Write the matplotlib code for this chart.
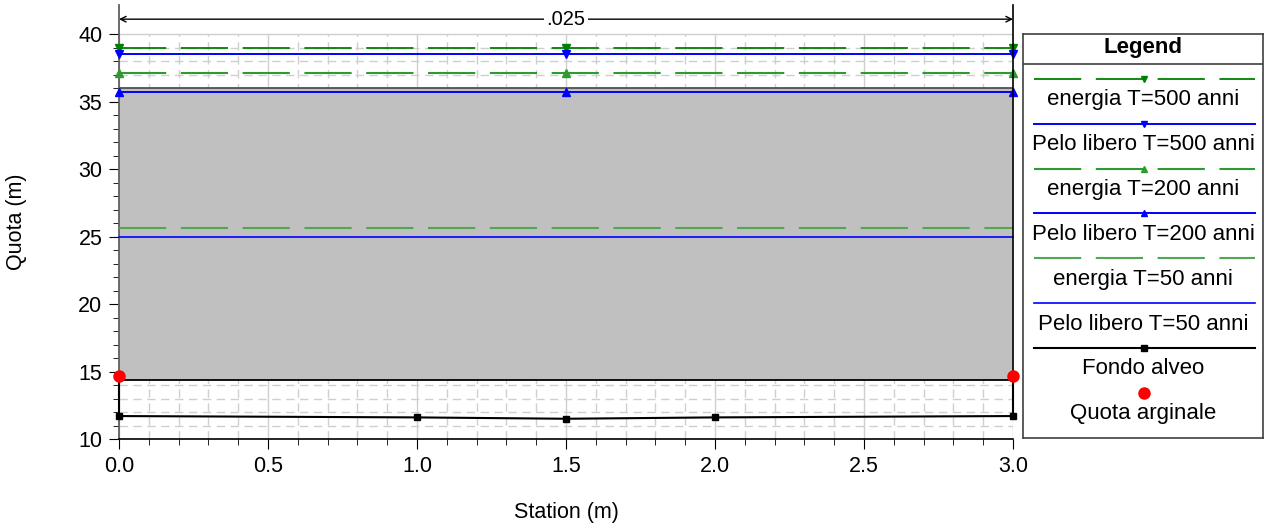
import matplotlib
matplotlib.use("Agg")
import matplotlib.pyplot as plt
from matplotlib.lines import Line2D

plt.rcParams['font.family'] = ['Liberation Sans', 'DejaVu Sans']
plt.rcParams['lines.scale_dashes'] = False

# sezione / dati
stazioni_fondo = [0.0, 0.0, 1.0, 1.5, 2.0, 3.0, 3.0]
quote_fondo = [14.7, 11.7, 11.6, 11.5, 11.6, 11.7, 14.7]
stazioni_argini = [0.0, 3.0]
quote_argini = [14.7, 14.7]

stazioni_livelli = [0.0, 1.5, 3.0]
energia_500 = [39.0, 39.0, 39.0]
pelo_500 = [38.5, 38.5, 38.5]
energia_200 = [37.1, 37.1, 37.1]
pelo_200 = [35.7, 35.7, 35.7]
energia_50 = [25.65, 25.65, 25.65]
pelo_50 = [24.95, 24.95, 24.95]

# ostruzione (area grigia)
ostruzione_x = [0.0, 3.0]
ostruzione_basso = [14.35, 14.35]
ostruzione_alto = [36.0, 36.0]

manning_n = ".025"

x_major = [0.0, 0.5, 1.0, 1.5, 2.0, 2.5, 3.0]
x_labels = ["0.0", "0.5", "1.0", "1.5", "2.0", "2.5", "3.0"]
x_minor = [i / 10 for i in range(31)]
y_major = [10, 15, 20, 25, 30, 35, 40]
y_minor = list(range(10, 41))

verde_scuro = '#008000'
verde_medio = '#2f9a2f'
verde_chiaro = '#4fa84f'
blu = '#0000ff'
dash_energia = (0, (34, 10.5))

serie = [
    ("energia T=500 anni", energia_500, dict(color=verde_scuro, ls=dash_energia, lw=1.3, marker='v')),
    ("Pelo libero T=500 anni", pelo_500, dict(color=blu, ls='-', lw=1.4, marker='v')),
    ("energia T=200 anni", energia_200, dict(color=verde_medio, ls=dash_energia, lw=1.5, marker='^')),
    ("Pelo libero T=200 anni", pelo_200, dict(color=blu, ls='-', lw=1.4, marker='^')),
    ("energia T=50 anni", energia_50, dict(color=verde_chiaro, ls=dash_energia, lw=1.5, marker=None)),
    ("Pelo libero T=50 anni", pelo_50, dict(color=blu, ls='-', lw=1.2, marker=None)),
]

fig = plt.figure(figsize=(12.7, 5.26), dpi=100)
ax = fig.add_axes([119 / 1270, 87 / 526, 894 / 1270, 434 / 526])

# griglia solo fino a quota 40
gx0, gx1 = x_major[0], x_major[-1]
gy0, gy1 = y_major[0], y_major[-1]
ax.vlines([v for v in x_minor if v not in x_major], gy0, gy1, color='#cfcfcf', lw=1.0,
          linestyles=[(0, (6, 4))], zorder=0)
ax.hlines([v for v in y_minor if v not in y_major], gx0, gx1, color='#cfcfcf', lw=1.0,
          linestyles=[(0, (6, 4))], zorder=0)
ax.vlines(x_major, gy0, gy1, color='#cfcfcf', lw=1.0, zorder=0)
ax.hlines(y_major, gx0, gx1, color='#cfcfcf', lw=1.0, zorder=0)

# area grigia
ax.fill_between(ostruzione_x, ostruzione_basso, ostruzione_alto, color='#c0c0c0', lw=0, zorder=2)
ax.plot(ostruzione_x, ostruzione_basso, color='black', lw=1.3, zorder=3)
ax.plot(ostruzione_x, ostruzione_alto, color='#505050', lw=1.3, zorder=3)

for nome, valori, st in serie:
    ax.plot(stazioni_livelli, valori, color=st['color'], ls=st['ls'], lw=st['lw'],
            marker=st['marker'], markersize=6, clip_on=False, zorder=4)

ax.plot(stazioni_fondo, quote_fondo, color='black', lw=1.5, marker='s', markersize=5,
        clip_on=False, zorder=5)
ax.plot(stazioni_argini, quote_argini, ls='none', color='red', marker='o', markersize=8,
        clip_on=False, zorder=6)

# linea verticale a destra
ax.plot([3.0, 3.0], [quote_fondo[-1], 42.15], color='black', lw=1.2, clip_on=False, zorder=5)

# freccia di Manning
ax.annotate('', xy=(0.0, 41.1), xytext=(3.0, 41.1),
            arrowprops=dict(arrowstyle='<->', color='black', lw=1.0, shrinkA=0, shrinkB=0))
ax.text(1.5, 41.1, manning_n, ha='center', va='center', fontsize=14.5,
        bbox=dict(facecolor='white', edgecolor='none', pad=1.5))

ax.set_xlim(0, 3.0)
ax.set_ylim(10, 42.15)
ax.set_xticks(x_major)
ax.set_xticks(x_minor, minor=True)
ax.set_yticks(y_major)
ax.set_yticks(y_minor, minor=True)
ax.set_xticklabels(x_labels)

ax.tick_params(which='major', length=7, labelsize=15.5, direction='out', pad=5)
ax.tick_params(which='minor', length=4.5, direction='out')
for s in ['top', 'right']:
    ax.spines[s].set_visible(False)
ax.spines['left'].set_color('#606060')
ax.spines['left'].set_linewidth(1.3)
ax.spines['bottom'].set_linewidth(1.2)

ax.set_xlabel("Station (m)", fontsize=15.5, labelpad=18)
ax.set_ylabel("Quota (m)", fontsize=15.5, labelpad=37)

# legenda disegnata a mano (voci sotto il simbolo)
lax = fig.add_axes([1023 / 1270, 88 / 526, 240 / 1270, 404 / 526])
lax.set_xlim(0, 240)
lax.set_ylim(404, 0)
lax.set_xticks([])
lax.set_yticks([])
for s in lax.spines.values():
    s.set_color('#404040')
    s.set_linewidth(1.2)
lax.text(120, 13, "Legend", ha='center', va='center', fontsize=16, fontweight='bold')
lax.plot([0, 240], [30, 30], color='#404040', lw=1.2)

voci = [(nome, st) for nome, _, st in serie]
voci.append(("Fondo alveo", dict(color='black', ls='-', lw=1.5, marker='s')))
voci.append(("Quota arginale", dict(color='red', ls='none', lw=0, marker='o')))
for i, (nome, st) in enumerate(voci):
    y = 45 + i * 44.8
    lax.add_line(Line2D([11, 232], [y, y], color=st['color'], ls=st['ls'], lw=st['lw']))
    if st['marker'] is not None:
        lax.plot([121], [y], ls='none', marker=st['marker'], color=st['color'],
                 markersize=8 if st['marker'] == 'o' else 5)
    lax.text(120, y + 21, nome, ha='center', va='center', fontsize=16)

fig.savefig("out.png", dpi=100)
